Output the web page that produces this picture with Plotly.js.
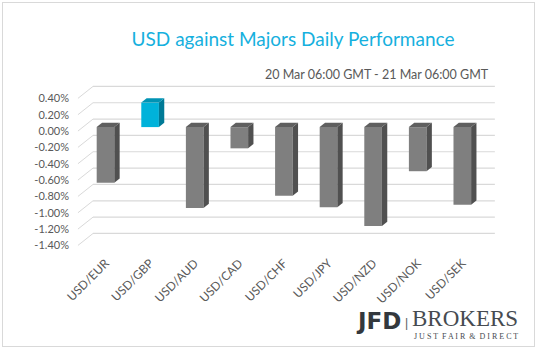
<!DOCTYPE html>
<html>
<head>
<meta charset="utf-8">
<script src="https://cdn.plot.ly/plotly-3.0.1.min.js"></script>
<style>
  html, body { margin: 0; padding: 0; background: #ffffff; }
  #wrap { position: relative; width: 538px; height: 351px; }
  #chart { width: 538px; height: 351px; }
  #frame { position: absolute; left: 2px; top: 2px; width: 531px; height: 343px;
           border: 1.5px solid #d9d9d9; pointer-events: none; }
</style>
</head>
<body>
<div id="wrap"><div id="chart"></div><div id="frame"></div></div>
<script>
// ---- data ----
const categories = ['USD/EUR', 'USD/GBP', 'USD/AUD', 'USD/CAD', 'USD/CHF', 'USD/JPY', 'USD/NZD', 'USD/NOK', 'USD/SEK'];
const changes = [-0.68, 0.30, -0.99, -0.26, -0.84, -0.98, -1.21, -0.54, -0.95];
const yTickValues = [0.4, 0.2, 0.0, -0.2, -0.4, -0.6, -0.8, -1.0, -1.2, -1.4];
const yTickLabels = ['0.40%', '0.20%', '0.00%', '-0.20%', '-0.40%', '-0.60%', '-0.80%', '-1.00%', '-1.20%', '-1.40%'];
const titleText = 'USD against Majors Daily Performance';
const subtitleText = '20 Mar 06:00 GMT - 21 Mar 06:00 GMT';

// ---- styling / pseudo-3D geometry (in axis units) ----
const BAR_W = 0.395, DEPTH_X = 0.12, DEPTH_Y = 0.052, BAR_LIFT = 0.048;
const WALL_FRONT_X = -0.617, WALL_BACK_X = -0.28, WALL_RIGHT_X = 8.73, WALL_DY = 0.146;
const GRAY = {front: '#7f7f7f', side: '#505050', top: '#5f5f5f'};
const BLUE = {front: '#00b2da', side: '#007a96', top: '#0093b4'};

const L = 70, R = 31, T = 82, B = 98, W = 538 - L - R, H = 351 - T - B;
const px2paperX = p => (p - L) / W;
const py2paperY = p => (351 - B - p) / H;

const idx = categories.map((_, i) => i);
const palette = changes.map(v => v >= 0 ? BLUE : GRAY);

const traces = [];
traces.push({
  type: 'bar', x: idx, y: changes, base: BAR_LIFT, width: BAR_W,
  marker: {color: palette.map(p => p.front), line: {width: 0}},
  hoverinfo: 'skip', showlegend: false
});
changes.forEach((v, i) => {
  const top = BAR_LIFT + Math.max(0, v), bot = BAR_LIFT + Math.min(0, v);
  const xl = i - BAR_W / 2, xr = i + BAR_W / 2;
  traces.push({
    type: 'scatter', mode: 'lines', fill: 'toself', fillcolor: palette[i].side,
    line: {width: 0, color: palette[i].side},
    x: [xr, xr, xr + DEPTH_X, xr + DEPTH_X, xr],
    y: [bot, top, top + DEPTH_Y, bot + DEPTH_Y, bot],
    hoverinfo: 'skip', showlegend: false
  });
  traces.push({
    type: 'scatter', mode: 'lines', fill: 'toself', fillcolor: palette[i].top,
    line: {width: 0, color: palette[i].top},
    x: [xl, xr, xr + DEPTH_X, xl + DEPTH_X, xl],
    y: [top, top, top + DEPTH_Y, top + DEPTH_Y, top],
    hoverinfo: 'skip', showlegend: false
  });
});

const shapes = [];
yTickValues.forEach(v => {
  shapes.push({type: 'line', xref: 'x', yref: 'y', layer: 'below',
    x0: WALL_FRONT_X, y0: v, x1: WALL_BACK_X, y1: v + WALL_DY,
    line: {color: '#d9d9d9', width: 1}});
  shapes.push({type: 'line', xref: 'x', yref: 'y', layer: 'below',
    x0: WALL_BACK_X, y0: v + WALL_DY, x1: WALL_RIGHT_X, y1: v + WALL_DY,
    line: {color: '#d9d9d9', width: 1.2}});
});

const yTop = 0.6, pxPerUnit = 81.7;
const yBottom = yTop - H / pxPerUnit;

const layout = {
  width: 538, height: 351,
  margin: {l: L, r: R, t: T, b: B, pad: 0},
  paper_bgcolor: '#ffffff', plot_bgcolor: 'rgba(0,0,0,0)',
  showlegend: false,
  title: {text: titleText, xref: 'container', yref: 'container',
    x: 293 / 538, xanchor: 'center', y: 1 - 39 / 351, yanchor: 'middle',
    font: {family: 'Lato, "Open Sans", sans-serif', size: 19, color: '#16b0de'}},
  xaxis: {range: [-(105.5 - L) / 44.6, -(105.5 - L) / 44.6 + W / 44.6],
    tickmode: 'array', tickvals: idx, ticktext: categories, tickangle: -45,
    showgrid: false, zeroline: false, showline: false, ticks: '',
    tickfont: {family: 'Lato, sans-serif', size: 12, color: '#595959'}, fixedrange: true},
  yaxis: {range: [yBottom, yTop], tickmode: 'array', tickvals: yTickValues, ticktext: yTickLabels,
    showgrid: false, zeroline: false, showline: false, ticks: '',
    tickfont: {family: 'Lato, sans-serif', size: 11, color: '#595959'}, fixedrange: true},
  shapes: shapes,
  annotations: [
    {text: subtitleText, xref: 'paper', yref: 'paper', x: px2paperX(491), y: py2paperY(74),
      xanchor: 'right', yanchor: 'middle', showarrow: false,
      font: {family: 'Lato, sans-serif', size: 12.5, color: '#595959'}},
    {text: '<b>JFD</b>', xref: 'paper', yref: 'paper', x: px2paperX(403), y: py2paperY(320.5),
      xanchor: 'right', yanchor: 'middle', showarrow: false,
      font: {family: '"DejaVu Sans", sans-serif', size: 23, color: '#33383d'}},
    {text: '|', xref: 'paper', yref: 'paper', x: px2paperX(406.5), y: py2paperY(323),
      xanchor: 'center', yanchor: 'middle', showarrow: false,
      font: {family: '"Liberation Sans", sans-serif', size: 12, color: '#555a60'}},
    {text: 'BROKERS', xref: 'paper', yref: 'paper', x: px2paperX(410), y: py2paperY(318.5),
      xanchor: 'left', yanchor: 'middle', showarrow: false,
      font: {family: '"Liberation Serif", serif', size: 23, color: '#464b51'}},
    {text: 'J U S T  F A I R  &  D I R E C T', xref: 'paper', yref: 'paper', x: px2paperX(412), y: py2paperY(336),
      xanchor: 'left', yanchor: 'middle', showarrow: false,
      font: {family: '"Liberation Serif", serif', size: 8, color: '#464b51'}}
  ]
};

Plotly.newPlot('chart', traces, layout, {displayModeBar: false, staticPlot: true});
</script>
</body>
</html>
